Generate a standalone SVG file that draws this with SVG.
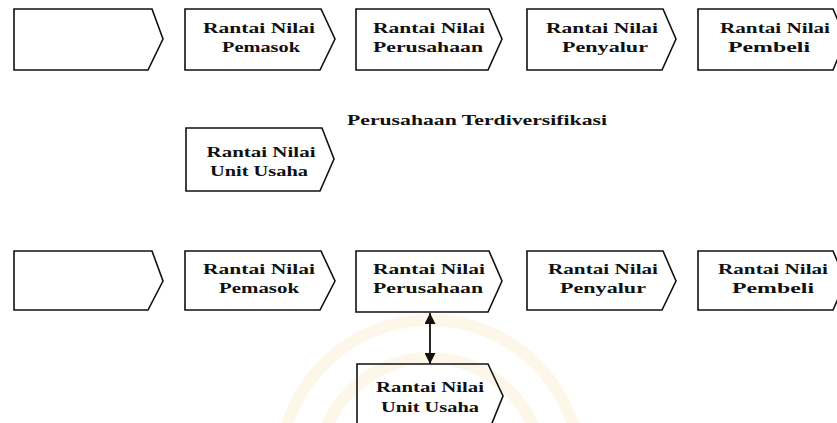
<svg xmlns="http://www.w3.org/2000/svg" width="837" height="423" viewBox="0 0 837 423">
<defs>
<style>
.box{fill:none;stroke:#111;stroke-width:1.6;stroke-linejoin:miter}
.t{font-family:"Liberation Serif","Times New Roman",serif;font-weight:bold;font-size:15px;fill:#111;text-anchor:middle}
.wm{fill:none;stroke:#fdf3dc;stroke-width:12}
.con{stroke:#111;stroke-width:1.8;fill:none}
</style>
<marker id="ah" viewBox="0 0 10 10" refX="10" refY="5" markerWidth="12" markerHeight="11" markerUnits="userSpaceOnUse" orient="auto-start-reverse">
<path d="M0,0 L10,5 L0,10 Z" fill="#111"/>
</marker>
</defs>
<rect width="837" height="423" fill="#fff"/>
<g id="watermark" opacity="0.6">
<circle class="wm" cx="430" cy="470" r="150"/>
<circle class="wm" cx="430" cy="470" r="112" stroke-width="7"/>
</g>

<g id="top-row">
<g id="t1"><path class="box" d="M14,9 H152 L163,39 L148,70 H14 Z"/></g>
<g id="t2"><path class="box" d="M185,9 H321 L335,39 L320,70 H185 Z"/>
<text class="t" x="259" y="33" textLength="112" lengthAdjust="spacingAndGlyphs">Rantai Nilai</text>
<text class="t" x="261" y="52" textLength="78" lengthAdjust="spacingAndGlyphs">Pemasok</text></g>
<g id="t3"><path class="box" d="M356,9 H489 L502,39 L488,70 H356 Z"/>
<text class="t" x="429" y="33" textLength="112" lengthAdjust="spacingAndGlyphs">Rantai Nilai</text>
<text class="t" x="428" y="52" textLength="110" lengthAdjust="spacingAndGlyphs">Perusahaan</text></g>
<g id="t4"><path class="box" d="M527,9 H663 L676,39 L662,70 H527 Z"/>
<text class="t" x="602" y="33" textLength="112" lengthAdjust="spacingAndGlyphs">Rantai Nilai</text>
<text class="t" x="605" y="52" textLength="86" lengthAdjust="spacingAndGlyphs">Penyalur</text></g>
<g id="t5"><path class="box" d="M698,9 H833 L846,39 L833,70 H698 Z"/>
<text class="t" x="775" y="33" textLength="110" lengthAdjust="spacingAndGlyphs">Rantai Nilai</text>
<text class="t" x="769" y="52" textLength="82" lengthAdjust="spacingAndGlyphs">Pembeli</text></g>
</g>

<text id="title" class="t" x="477" y="125" textLength="260" lengthAdjust="spacingAndGlyphs">Perusahaan Terdiversifikasi</text>

<g id="unit-top"><path class="box" d="M186,128 H322 L334,159 L320,191 H186 Z"/>
<text class="t" x="261" y="157" textLength="109" lengthAdjust="spacingAndGlyphs">Rantai Nilai</text>
<text class="t" x="259" y="176" textLength="98" lengthAdjust="spacingAndGlyphs">Unit Usaha</text></g>

<g id="bottom-row">
<g id="b1"><path class="box" d="M14,251 H152 L163,281 L148,310 H14 Z"/></g>
<g id="b2"><path class="box" d="M185,251 H321 L335,281 L320,310 H185 Z"/>
<text class="t" x="259" y="274" textLength="112" lengthAdjust="spacingAndGlyphs">Rantai Nilai</text>
<text class="t" x="259" y="293" textLength="80" lengthAdjust="spacingAndGlyphs">Pemasok</text></g>
<g id="b3"><path class="box" d="M356,251 H489 L502,281 L488,312 H356 Z"/>
<text class="t" x="429" y="274" textLength="112" lengthAdjust="spacingAndGlyphs">Rantai Nilai</text>
<text class="t" x="428" y="293" textLength="110" lengthAdjust="spacingAndGlyphs">Perusahaan</text></g>
<g id="b4"><path class="box" d="M527,251 H663 L676,281 L662,310 H527 Z"/>
<text class="t" x="603" y="274" textLength="110" lengthAdjust="spacingAndGlyphs">Rantai Nilai</text>
<text class="t" x="603" y="293" textLength="86" lengthAdjust="spacingAndGlyphs">Penyalur</text></g>
<g id="b5"><path class="box" d="M698,251 H833 L846,281 L833,310 H698 Z"/>
<text class="t" x="773" y="274" textLength="110" lengthAdjust="spacingAndGlyphs">Rantai Nilai</text>
<text class="t" x="773" y="293" textLength="82" lengthAdjust="spacingAndGlyphs">Pembeli</text></g>
</g>

<g id="unit-bottom"><path class="box" d="M357,364 H488 L503,396 L490,428 H357 Z" fill="#fffbf2"/>
<text class="t" x="430" y="392" textLength="108" lengthAdjust="spacingAndGlyphs">Rantai Nilai</text>
<text class="t" x="430" y="412" textLength="98" lengthAdjust="spacingAndGlyphs">Unit Usaha</text></g>

<g id="connectors">
<line class="con" x1="430" y1="313" x2="430" y2="364" marker-start="url(#ah)" marker-end="url(#ah)"/>
</g>
</svg>
